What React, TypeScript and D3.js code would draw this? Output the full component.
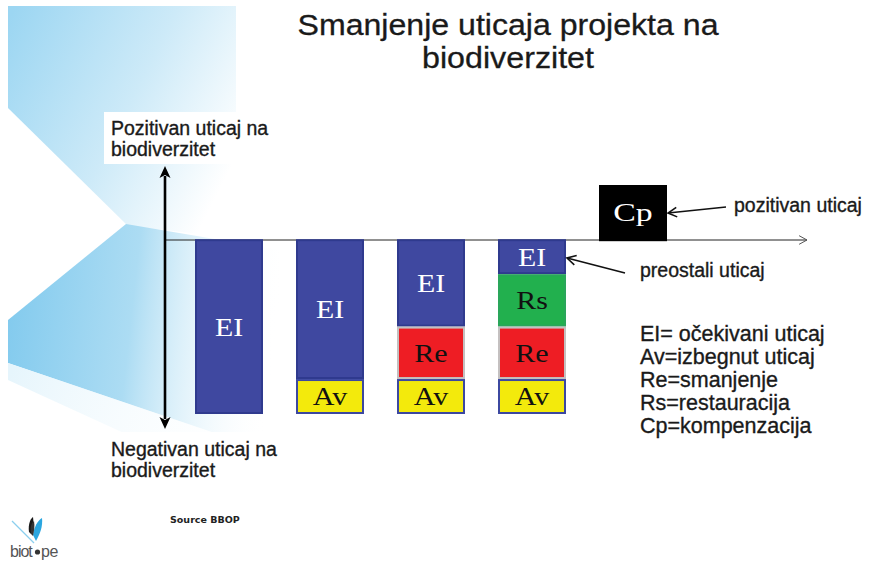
import React from "react";
import * as d3 from "d3";

// ---- data ----
const scenarios = ["S1", "S2", "S3", "S4"];
const expectedImpact = [100, 80, 50, 20]; // EI
const restoration = [0, 0, 0, 30]; // Rs
const reduction = [0, 0, 30, 30]; // Re
const avoided = [0, 20, 20, 20]; // Av
const compensationKey = "Cp";
const compensation = 31;

const segmentKeys = ["EI", "Rs", "Re", "Av"];
const segmentLabels: Record<string, string> = { EI: "EI", Rs: "Rs", Re: "Re", Av: "Av" };
const segmentFill: Record<string, string> = { EI: "#3f48a0", Rs: "#22b04e", Re: "#ee1d24", Av: "#f3ea0c" };
const segmentStroke: Record<string, string> = { EI: "#2f3a8e", Rs: "#2aa65a", Re: "#c4c0c0", Av: "#3c48a0" };
const segmentText: Record<string, string> = { EI: "#ffffff", Rs: "#111111", Re: "#111111", Av: "#111111" };

const titleLines = ["Smanjenje uticaja projekta na", "biodiverzitet"];
const titleWidths = [421, 172];
const positiveAxisLabel = ["Pozitivan uticaj na", "biodiverzitet"];
const negativeAxisLabel = ["Negativan uticaj na", "biodiverzitet"];
const legendLines = [
  "EI= očekivani uticaj",
  "Av=izbegnut uticaj",
  "Re=smanjenje",
  "Rs=restauracija",
  "Cp=kompenzacija",
];
const positiveNote = "pozitivan uticaj";
const residualNote = "preostali uticaj";
const sourceText = "Source BBOP";

const W = 871;
const H = 561;

const sans = "'Liberation Sans', Arial, Helvetica, sans-serif";
const serif = "'Liberation Serif', 'Times New Roman', serif";

function openHead(tip: [number, number], tail: [number, number], len: number, ang: number) {
  const dx = tail[0] - tip[0];
  const dy = tail[1] - tip[1];
  const d = Math.hypot(dx, dy);
  const ux = dx / d, uy = dy / d;
  const rot = (a: number) => [ux * Math.cos(a) - uy * Math.sin(a), ux * Math.sin(a) + uy * Math.cos(a)];
  const a1 = rot(ang), a2 = rot(-ang);
  return `M${tip[0] + a1[0] * len},${tip[1] + a1[1] * len}L${tip[0]},${tip[1]}L${tip[0] + a2[0] * len},${tip[1] + a2[1] * len}`;
}

export default function App() {
  const x = d3.scalePoint<string>().domain([...scenarios, compensationKey]).range([229, 633]);
  const y = d3.scaleLinear().domain([-100, 31]).range([414, 185]);
  const barW = 68;

  const rows = scenarios.map((s, i) => ({
    scenario: s,
    EI: -expectedImpact[i],
    Rs: -restoration[i],
    Re: -reduction[i],
    Av: -avoided[i],
  }));
  const stacked = d3.stack<any>().keys(segmentKeys).offset(d3.stackOffsetDiverging)(rows);

  const axisY = 240;
  const axisX0 = 165;
  const axisX1 = 807;

  const cpCx = x(compensationKey)!;
  const cpX = cpCx - barW / 2;
  const lastBarRight = x(scenarios[3])! + barW / 2;

  const legendBase = 341;
  const legendStep = 23;

  return (
    <svg width={W} height={H} style={{ position: "absolute", left: 0, top: 0, background: "#ffffff" }}>
      <defs>
        <linearGradient id="bgTop" gradientUnits="userSpaceOnUse" x1="8" y1="20" x2="245" y2="140">
          <stop offset="0" stopColor="#9cd6f2" />
          <stop offset="0.55" stopColor="#cdeaf8" />
          <stop offset="1" stopColor="#ffffff" />
        </linearGradient>
        <linearGradient id="bgLow" gradientUnits="userSpaceOnUse" x1="8" y1="330" x2="275" y2="360">
          <stop offset="0" stopColor="#84cbee" />
          <stop offset="0.45" stopColor="#acdcf3" />
          <stop offset="1" stopColor="#ffffff" stopOpacity="0" />
        </linearGradient>
        <linearGradient id="bgFaint" gradientUnits="userSpaceOnUse" x1="8" y1="380" x2="260" y2="480">
          <stop offset="0" stopColor="#e6f5fc" />
          <stop offset="1" stopColor="#ffffff" stopOpacity="0" />
        </linearGradient>
      </defs>

      {/* decorative background beams */}
      <polygon points="8,6 236,6 236,238 128,226 8,108" fill="url(#bgTop)" />
      <polygon points="8,320 126,224 280,250 280,455 8,363" fill="url(#bgLow)" />
      <polygon points="8,363 280,455 270,500 8,380" fill="url(#bgFaint)" />

      {/* title */}
      <g fontFamily={sans} fontSize={29} fill="#1a1a1a" stroke="#1a1a1a" strokeWidth={0.3} textAnchor="middle">
        {titleLines.map((t, i) => (
          <text key={i} x={508} y={35 + i * 33} textLength={titleWidths[i]} lengthAdjust="spacingAndGlyphs">
            {t}
          </text>
        ))}
      </g>

      {/* axis labels with white boxes */}
      <rect x={104} y={112} width={180} height={52} fill="#ffffff" />
      <rect x={104} y={432} width={180} height={56} fill="#ffffff" />
      <g fontFamily={sans} fontSize={19.5} fill="#1a1a1a" stroke="#1a1a1a" strokeWidth={0.35}>
        {positiveAxisLabel.map((t, i) => (
          <text key={"p" + i} x={111} y={135 + i * 21}>{t}</text>
        ))}
        {negativeAxisLabel.map((t, i) => (
          <text key={"n" + i} x={111} y={456 + i * 21}>{t}</text>
        ))}
      </g>

      {/* horizontal axis */}
      <line x1={axisX0} y1={axisY} x2={axisX1} y2={axisY} stroke="#222" strokeWidth={1} />
      <path d={openHead([axisX1, axisY], [axisX0, axisY], 9, 0.5)} fill="none" stroke="#555" strokeWidth={1} />

      {/* vertical double arrow */}
      <line x1={165} y1={176} x2={165} y2={419} stroke="#000" strokeWidth={2.6} />
      <polygon points="165,166 159.5,178 165,175 170.5,178" fill="#000" />
      <polygon points="165,429 159.5,417 165,420 170.5,417" fill="#000" />

      {/* stacked bars */}
      {stacked.map((layer) =>
        layer.map((d: any, i: number) => {
          if (d[0] === d[1]) return null;
          const key = layer.key;
          const cx = x(d.data.scenario)!;
          const y0 = y(d[1]);
          const y1 = y(d[0]);
          const cy = (y0 + y1) / 2;
          return (
            <g key={key + i}>
              <rect
                x={cx - barW / 2 + 1}
                y={y0 + 1}
                width={barW - 2}
                height={y1 - y0 - 2}
                fill={segmentFill[key]}
                stroke={segmentStroke[key]}
                strokeWidth={2}
              />
              <text
                transform={`translate(${cx},${cy}) scale(${key === "EI" ? 1.15 : 1.2},1)`}
                dy="0.35em"
                textAnchor="middle"
                fontFamily={serif}
                fontSize={key === "EI" ? 26 : 25}
                fill={segmentText[key]}
              >
                {segmentLabels[key]}
              </text>
            </g>
          );
        })
      )}

      {/* compensation box */}
      <rect x={cpX} y={y(compensation)} width={barW} height={y(0) - y(compensation) + 2} fill="#000" />
      <text
        transform={`translate(${cpCx},${(y(compensation) + y(0)) / 2}) scale(1.3,1)`}
        dy="0.35em"
        textAnchor="middle"
        fontFamily={serif}
        fontSize={26}
        fill="#fff"
      >
        {compensationKey}
      </text>

      {/* annotation arrows */}
      <line x1={726} y1={207} x2={cpX + barW + 1} y2={213} stroke="#111" strokeWidth={1.6} />
      <path d={openHead([cpX + barW + 1, 213], [726, 207], 10, 0.5)} fill="none" stroke="#111" strokeWidth={1.6} />
      <line x1={625} y1={273} x2={lastBarRight + 1} y2={258} stroke="#111" strokeWidth={1.6} />
      <path d={openHead([lastBarRight + 1, 258], [625, 273], 10, 0.5)} fill="none" stroke="#111" strokeWidth={1.6} />

      <g fontFamily={sans} fontSize={19.5} fill="#1a1a1a" stroke="#1a1a1a" strokeWidth={0.35}>
        <text x={734} y={212}>{positiveNote}</text>
        <text x={640} y={277}>{residualNote}</text>
      </g>
      <g fontFamily={sans} fontSize={21.5} fill="#1a1a1a" stroke="#1a1a1a" strokeWidth={0.35}>
        {legendLines.map((t, i) => (
          <text key={i} x={640} y={legendBase + i * legendStep}>{t}</text>
        ))}
      </g>

      {/* source */}
      <text x={170} y={523} fontFamily="'DejaVu Sans', Verdana, sans-serif" fontWeight="bold" fontSize={9.5} fill="#222">
        {sourceText}
      </text>

      {/* logo */}
      <g>
        <line x1={12} y1={521} x2={34} y2={543} stroke="#8ccfee" strokeWidth={1.2} />
        <path d="M29,532 C28,525 30,519 33,517 C34,522 33,528 31,534 Z" fill="#1a1a1a" />
        <path d="M33,535 C34,527 38,520 42,518 C43,526 40,534 36,541 Z" fill="#2aa6e0" />
        <path d="M31,534 C30,528 31,523 34,521 C35,526 34,531 33,536 Z" fill="#333" />
        <text x={10} y={557} fontFamily={sans} fontSize={16} fill="#555" letterSpacing={-1}>
          biot
        </text>
        <circle cx={37.5} cy={552} r={2.6} fill="#333" />
        <text x={41} y={557} fontFamily={sans} fontSize={16} fill="#555" letterSpacing={-0.5}>pe</text>
      </g>
    </svg>
  );
}
